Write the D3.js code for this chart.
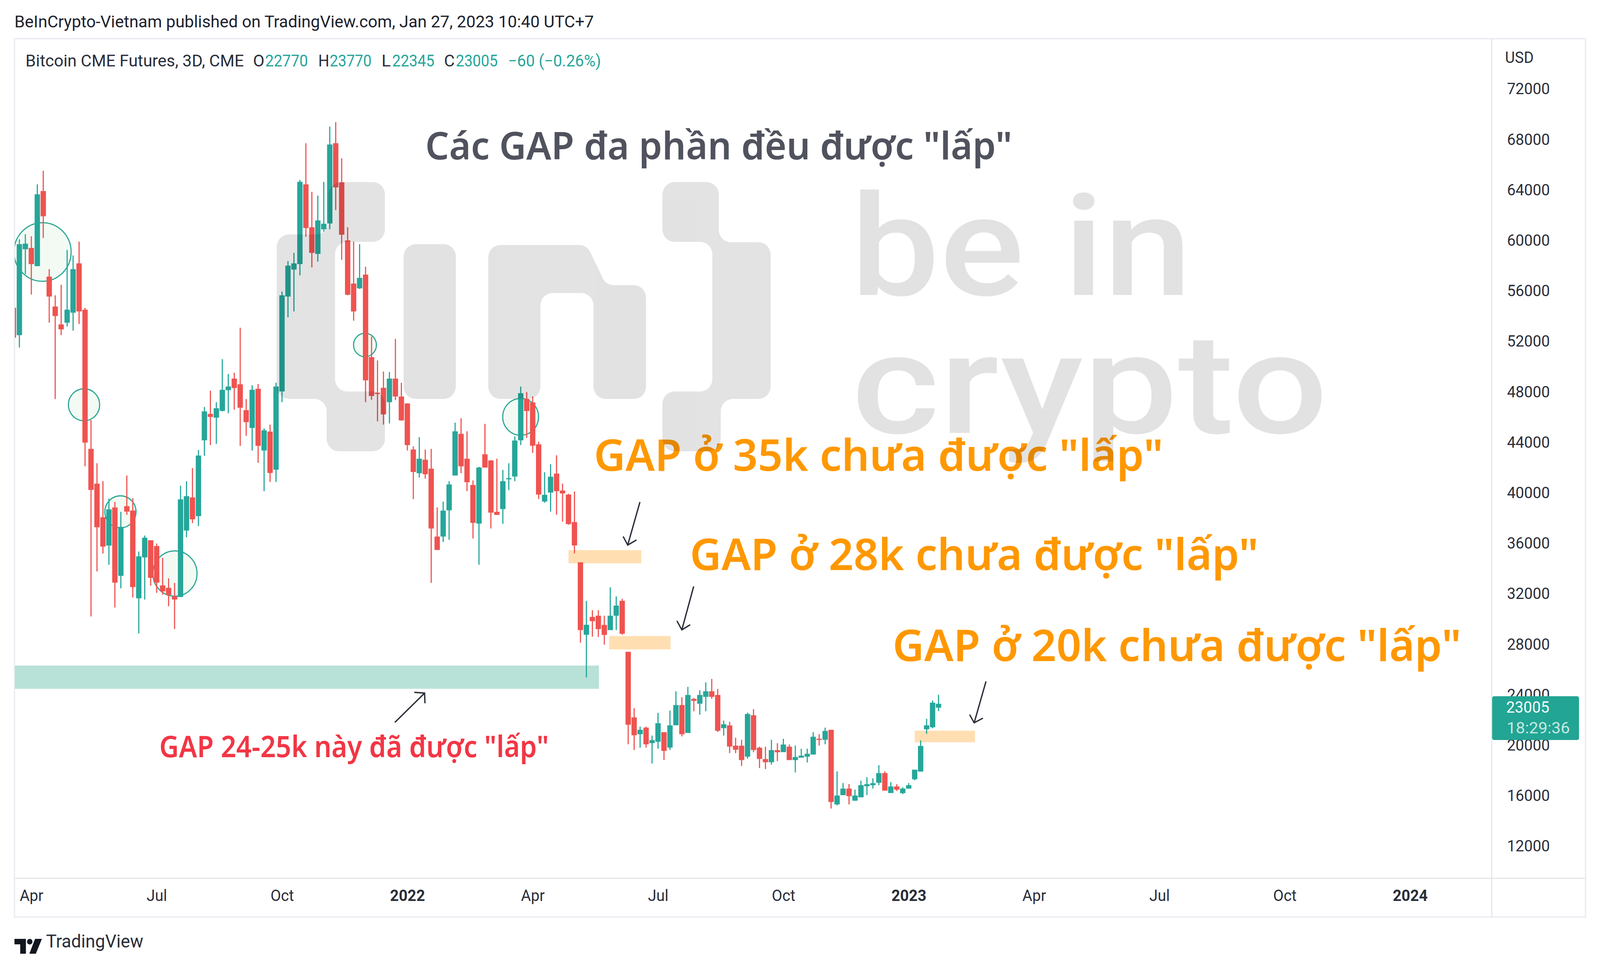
<!DOCTYPE html>
<html>
<head>
<meta charset="utf-8">
<script src="https://cdn.jsdelivr.net/npm/d3@7"></script>
<style>
    html, body { margin: 0; padding: 0; background: #fff; overflow: hidden; }
    svg { display: block; width: 100vw; height: 100vh; font-family: Roboto, sans-serif; }
</style>
</head>
<body>
<div id="chart"></div>
<script>
//~~~~~~~~~~~~~~~~~~~~~~~~~~~~~~~~~~~~
// Data, one entry per 3D bar
//~~~~~~~~~~~~~~~~~~~~~~~~~~~~~~~~~~~~
const opens = [
    54670,52500,59310,59410,57970,63920,57140,54770,53350,53490,
    54280,58190,54520,43490,40730,38070,35830,38850,33430,38950,
    38600,31650,34890,36250,35790,32670,32480,31810,31750,37020,
    39640,38160,44170,46260,45960,46500,48140,49060,48610,46560,
    45150,48250,43360,44860,41840,48040,55560,57700,58130,64450,
    61050,58940,60890,61350,67710,64610,60010,56590,56210,57300,
    50760,47940,48330,47190,49060,47640,47090,43440,41560,42630,
    41920,36540,36540,38620,41380,44680,42710,40630,37570,43060,
    42570,38500,38720,41110,41300,44170,47450,47170,43850,39320,
    40030,41530,40190,39870,37690,34500,28760,30170,30270,29540,
    29130,30270,31450,27410,22210,20880,21400,20170,20280,21040,
    19820,21590,23190,20980,23680,23300,23840,24280,23990,21360,
    21580,19970,19970,19100,22380,19810,18910,18660,19620,19460,
    19890,18830,19020,19100,19270,20520,20440,21230,15320,16050,
    16570,15610,15880,16760,16840,17030,17800,16220,16740,16210,
    16570,17310,17920,21270,21430,22980
];
const highs = [
    54670,60100,60500,60340,64450,65530,57730,55660,56490,59260,
    58820,59910,54670,45770,42350,40930,39550,39290,38500,41380,
    39590,35360,36620,36250,35990,34850,33230,32870,40570,40930,
    41970,43400,46810,48100,47190,50600,49420,49520,53090,47440,
    48530,48630,45110,45410,48730,55960,58370,59020,64800,67710,
    63860,63560,64650,69030,69380,66520,61050,59910,59710,57930,
    52380,50500,49620,49580,52200,48730,47090,43690,44420,43440,
    43490,38850,39310,40930,45570,45920,44880,40990,42070,45470,
    42610,42710,41820,42350,44480,48430,47990,47640,44060,41640,
    42270,42980,40740,39930,40110,34500,31450,30710,30710,30270,
    32520,31800,31610,27410,22940,21480,21480,20770,22570,21040,
    22750,24280,23810,24630,23760,24360,24990,25260,24470,21960,
    21860,20600,20440,22590,22860,19890,19890,20440,20170,20520,
    20060,19980,19730,19730,21040,20880,21400,21230,17930,17010,
    16930,16490,17200,17470,17380,18430,17930,17090,16920,16670,
    17010,18070,20390,22100,23550,24000
];
const lows = [
    52300,51520,57340,55720,57970,60200,53490,47440,52500,53190,
    52860,53390,42110,30210,33780,35200,34310,30920,32440,38260,
    31710,28860,31550,32640,32080,31940,31020,29220,31750,36490,
    37610,37370,42940,43790,43890,46460,46320,46590,43730,44520,
    43360,42390,40140,40870,40870,47190,53920,54380,57240,60300,
    57870,58330,60700,60890,62410,58470,55660,53650,56160,47190,
    47380,45670,45410,45510,47350,45710,43360,39510,41220,41130,
    32870,35480,36110,36290,41380,41560,40140,36390,34310,42010,
    37180,38260,37550,40220,40930,43790,44360,43170,39510,39220,
    38530,38270,37720,37480,35210,28130,25380,28610,28580,27980,
    29130,29130,28760,20080,19630,19810,19820,18560,19730,18830,
    19630,21590,20710,20980,22700,22420,22700,23680,21060,20770,
    19380,19380,18370,18940,19450,18200,18120,18470,18750,19460,
    18830,17850,19020,18640,19270,19980,20080,14990,15240,16050,
    15320,15610,15880,16050,16570,16840,16410,16220,16380,16130,
    16570,17230,17920,20910,21350,22710
];
const closes = [
    52300,59710,59750,58130,63660,61920,55560,54020,52960,54520,
    57730,54380,43990,40240,37280,35750,38700,32890,37310,38520,
    32540,34970,36450,33270,32890,32200,31910,31550,39490,39740,
    37910,42960,46460,46020,46710,48170,48430,48310,46750,45610,
    48170,43730,44960,41580,48430,55660,58010,58190,64650,60990,
    59020,61590,61330,67610,64210,60460,55700,54380,57040,48920,
    47680,47840,46220,49060,47640,45750,43790,41660,42710,41480,
    37180,35480,38600,40670,44880,42110,40850,37630,42010,42010,
    38440,38260,40930,41170,44150,47900,46490,43740,39870,39850,
    41280,40140,39960,37530,35840,29130,29550,29840,29210,28750,
    30270,31070,28840,21630,20800,21230,20080,20410,21750,19560,
    21580,23190,20880,23990,23520,23990,24280,23840,21150,21670,
    19900,19650,18830,22480,19630,18920,18660,19620,19450,20060,
    18830,19070,19180,19330,20680,20460,21140,15510,16020,16570,
    15970,16020,16840,16920,17000,17800,16410,16740,16490,16570,
    16840,18070,19950,21580,23380,23290
];

const priceTicks = [12000,16000,20000,24000,28000,32000,36000,40000,44000,48000,52000,56000,60000,64000,68000,72000];
const timeTickBars = [3,24,45,66,87,108,129,150,171,192,213,234];
const timeTickLabels = ["Apr","Jul","Oct","2022","Apr","Jul","Oct","2023","Apr","Jul","Oct","2024"];

// gap zones as [first bar, last bar, top price, bottom price]
const filledGap = [0, 98.1, 26320, 24480];
const openGaps = [
    [93, 105.2, 35470, 34420],
    [99.8, 110.1, 28660, 27600],
    [151, 161.1, 21160, 20240]
];
// circled gaps as [bar, price]
const circledGaps = [[4.88,59090],[11.83,46985],[58.9,51722],[17.93,38502],[27.06,33610],[84.98,46025]];
const circleRadii = [75, 41, 30, 41, 58, 47];

//~~~~~~~~~~~~~~~~~~~~~~~~~~~~~~~~~~~~
// Layout
//~~~~~~~~~~~~~~~~~~~~~~~~~~~~~~~~~~~~
const width = 4198;
const height = 2475;
const frame = {left: 38, top: 99, right: 4160, bottom: 2347};
const axisX = 3914;
const axisY = 2248;
const green = "#26a69a";
const red = "#ef5350";
const ink = "#2a2e39";

const x = d3.scaleLinear().domain([0, 250]).range([35.2, 35.2 + 250 * 15.66]);
const y = d3.scaleLinear().domain([12000, 72000]).range([2166, 228]);

// the viewBox keeps the picture whole whatever size the window really has
const svg = d3.select("#chart").append("svg")
    .attr("viewBox", [0, 0, width, height])
    .attr("preserveAspectRatio", "none");

svg.append("rect").attr("width", width).attr("height", height).attr("fill", "#fff");

// text squeezed to the measured width, the font is not the original one
function label(parent, str, px, py, size, len, fill, opts = {}) {
    const t = parent.append("text")
        .attr("x", px)
        .attr("y", py)
        .attr("font-size", size)
        .attr("fill", fill)
        .attr("font-family", opts.family || "Roboto, sans-serif")
        .attr("font-weight", opts.weight || 400)
        .text(str);
    if (len) t.attr("textLength", len).attr("lengthAdjust", "spacingAndGlyphs");
    return t;
}

// polygon with rounded corners
function roundedPoly(points, r) {
    const p = d3.path();
    const n = points.length;
    const first = points[0], last = points[n - 1];
    p.moveTo((first[0] + last[0]) / 2, (first[1] + last[1]) / 2);
    for (let i = 0; i < n; i++) {
        const a = points[i], b = points[(i + 1) % n];
        p.arcTo(a[0], a[1], b[0], b[1], r);
    }
    p.closePath();
    return p.toString();
}

//~~~~~~~~~~~~~~~~~~~~~~~~~~~~~~~~~~~~
// Header and frame
//~~~~~~~~~~~~~~~~~~~~~~~~~~~~~~~~~~~~
label(svg, "BeInCrypto-Vietnam published on TradingView.com, Jan 27, 2023 10:40 UTC+7", 38, 70, 42, 1520, "#1e222d");

svg.append("rect")
    .attr("x", frame.left).attr("y", frame.top)
    .attr("width", frame.right - frame.left).attr("height", frame.bottom - frame.top)
    .attr("fill", "none").attr("stroke", "#eceef3").attr("stroke-width", 4);
svg.append("line").attr("x1", axisX).attr("x2", axisX).attr("y1", frame.top).attr("y2", frame.bottom)
    .attr("stroke", "#e4e5ea").attr("stroke-width", 3);
svg.append("line").attr("x1", frame.left).attr("x2", frame.right).attr("y1", axisY).attr("y2", axisY)
    .attr("stroke", "#e4e5ea").attr("stroke-width", 3);

//~~~~~~~~~~~~~~~~~~~~~~~~~~~~~~~~~~~~
// Plot area: circles, zones, candles
//~~~~~~~~~~~~~~~~~~~~~~~~~~~~~~~~~~~~
svg.append("clipPath").attr("id", "plot-clip").append("rect")
    .attr("x", frame.left + 1).attr("y", frame.top)
    .attr("width", axisX - frame.left - 1).attr("height", axisY - frame.top);

const plot = svg.append("g").attr("clip-path", "url(#plot-clip)");

plot.append("g").selectAll("circle")
    .data(circledGaps)
    .join("circle")
    .attr("cx", d => x(d[0]))
    .attr("cy", d => y(d[1]))
    .attr("r", (d, i) => circleRadii[i])
    .attr("fill", "#f3faf4")
    .attr("stroke", "#2aa792")
    .attr("stroke-width", 3);

const zoneRect = (sel, fill) => sel
    .attr("x", d => x(d[0]))
    .attr("width", d => x(d[1]) - x(d[0]))
    .attr("y", d => y(d[2]))
    .attr("height", d => y(d[3]) - y(d[2]))
    .attr("fill", fill);

plot.append("g").selectAll("rect").data([filledGap]).join("rect").call(zoneRect, "#b8e1d8");
plot.append("g").selectAll("rect").data(openGaps).join("rect").call(zoneRect, "#ffdfb2");

const candles = plot.append("g").selectAll("g")
    .data(d3.range(opens.length))
    .join("g")
    .attr("fill", i => closes[i] >= opens[i] ? green : red);

candles.append("rect")
    .attr("x", i => x(i) - 1.5)
    .attr("width", 3)
    .attr("y", i => y(highs[i]))
    .attr("height", i => y(lows[i]) - y(highs[i]));

candles.append("rect")
    .attr("x", i => x(i) - 7)
    .attr("width", 14)
    .attr("y", i => y(Math.max(opens[i], closes[i])))
    .attr("height", i => Math.max(3, Math.abs(y(opens[i]) - y(closes[i]))));

//~~~~~~~~~~~~~~~~~~~~~~~~~~~~~~~~~~~~
// Axes
//~~~~~~~~~~~~~~~~~~~~~~~~~~~~~~~~~~~~
const yAxis = svg.append("g")
    .attr("transform", `translate(${axisX + 40},0)`)
    .call(d3.axisRight(y).tickValues(priceTicks).tickSize(0).tickPadding(0).tickFormat(d3.format("d")));
yAxis.select(".domain").remove();
yAxis.selectAll("text").attr("font-size", 40).attr("font-family", "Roboto, sans-serif").attr("fill", ink);

const xAxis = svg.append("g")
    .attr("transform", `translate(0,${axisY + 30})`)
    .call(d3.axisBottom(x).tickValues(timeTickBars).tickSize(0).tickPadding(0).tickFormat((d, i) => timeTickLabels[i]));
xAxis.select(".domain").remove();
xAxis.selectAll("text")
    .attr("font-size", 40)
    .attr("font-family", "Roboto, sans-serif")
    .attr("fill", ink)
    .attr("font-weight", (d, i) => /^\d/.test(timeTickLabels[i]) ? 700 : 400);

label(svg, "USD", 3949, 161, 40, 75, ink);

svg.append("rect")
    .attr("x", axisX + 1).attr("y", 1782).attr("width", 228).attr("height", 112)
    .attr("rx", 5).attr("fill", "#22a594");
label(svg, "23005", 3952, 1824, 40, 113, "#fff");
label(svg, "18:29:36", 3953, 1877, 40, 166, "#fff").attr("fill-opacity", 0.75);

//~~~~~~~~~~~~~~~~~~~~~~~~~~~~~~~~~~~~
// Legend line
//~~~~~~~~~~~~~~~~~~~~~~~~~~~~~~~~~~~~
const legendY = 170;
label(svg, "Bitcoin CME Futures, 3D, CME", 67, legendY, 42, 573, ink);
label(svg, "O", 664, legendY, 42, 30, ink);
label(svg, "22770", 696, legendY, 42, 112, green);
label(svg, "H", 835, legendY, 42, 29, ink);
label(svg, "23770", 865, legendY, 42, 110, green);
label(svg, "L", 1001, legendY, 42, 24, ink);
label(svg, "22345", 1029, legendY, 42, 111, green);
label(svg, "C", 1165, legendY, 42, 28, ink);
label(svg, "23005", 1196, legendY, 42, 110, green);
label(svg, "\u221260 (\u22120.26%)", 1333, legendY, 42, 244, green);

//~~~~~~~~~~~~~~~~~~~~~~~~~~~~~~~~~~~~
// Annotations
//~~~~~~~~~~~~~~~~~~~~~~~~~~~~~~~~~~~~
const noteFont = {family: "'Noto Sans', sans-serif", weight: 600};
label(svg, "Các GAP đa phần đều được \"lấp\"", 1116, 408, 97, 1540, "#50535e", noteFont);
label(svg, "GAP ở 35k chưa được \"lấp\"", 1558, 1205, 112, 1494, "#ff9800", noteFont);
label(svg, "GAP ở 28k chưa được \"lấp\"", 1810, 1459, 112, 1492, "#ff9800", noteFont);
label(svg, "GAP ở 20k chưa được \"lấp\"", 2342, 1692, 112, 1492, "#ff9800", noteFont);
label(svg, "GAP 24-25k này đã được \"lấp\"", 418, 1938, 76, 1022, "#f23645", noteFont);

// arrows as [tail, tip, barb, barb]
const arrows = [
    [[1036,1849],[1114,1774],[1087,1772],[1115,1800]],
    [[1679,1285],[1647,1395],[1635,1373],[1670,1382]],
    [[1820,1501],[1789,1612],[1776,1589],[1811,1599]],
    [[2587,1744],[2556,1850],[2544,1829],[2579,1838]]
];
svg.append("g").selectAll("path")
    .data(arrows)
    .join("path")
    .attr("d", d => `M${d[0]}L${d[1]}M${d[2]}L${d[1]}L${d[3]}`)
    .attr("fill", "none")
    .attr("stroke", ink)
    .attr("stroke-width", 3.5);

//~~~~~~~~~~~~~~~~~~~~~~~~~~~~~~~~~~~~
// Watermark, laid over everything so it darkens what it crosses
//~~~~~~~~~~~~~~~~~~~~~~~~~~~~~~~~~~~~
const mark = svg.append("g").attr("opacity", 0.11);
const leftBracket = [[726,600],[862,600],[862,466],[1010,466],[1010,619],[879,619],[879,1002],[1010,1002],[1010,1155],[857,1155],[857,1021],[726,1021]];
const rightBracket = [[1738,466],[1886,466],[1886,620],[2022,620],[2022,1021],[1891,1021],[1891,1155],[1738,1155],[1738,1002],[1869,1002],[1869,619],[1738,619]];
const stemI = [[1059,625],[1196,625],[1196,1021],[1059,1021]];
const letterN = [[1281,627],[1540,627],[1590,730],[1695,730],[1695,1021],[1557,1021],[1557,750],[1418,750],[1418,1021],[1281,1021]];
mark.selectAll("path")
    .data([leftBracket, rightBracket, stemI, letterN])
    .join("path")
    .attr("d", d => roundedPoly(d, 32))
    .attr("fill", "#000");
label(mark, "be in", 2232, 755, 360, 895, "#000", {family: "Roboto, sans-serif", weight: 500});
label(mark, "crypto", 2234, 1108, 360, 1250, "#000", {family: "Roboto, sans-serif", weight: 500});

//~~~~~~~~~~~~~~~~~~~~~~~~~~~~~~~~~~~~
// Footer logo
//~~~~~~~~~~~~~~~~~~~~~~~~~~~~~~~~~~~~
const logo = svg.append("g").attr("transform", "translate(38,2403) scale(2)").attr("fill", "#131722");
logo.append("path").attr("d", "M0 0H15V19H7.5V7H0Z");
logo.append("path").attr("d", "M27 0H36L28 19H19.5Z");
logo.append("circle").attr("cx", 20).attr("cy", 3.6).attr("r", 3.6);
label(svg, "TradingView", 121, 2425, 46, 255, "#2a2e39");
</script>
</body>
</html>
